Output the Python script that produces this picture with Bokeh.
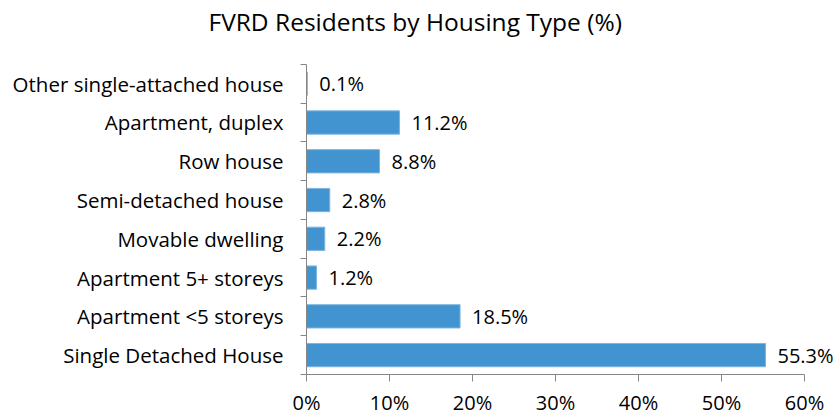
from bokeh.plotting import figure
from bokeh.models import ColumnDataSource, FixedTicker, PrintfTickFormatter, Range1d, LabelSet
from bokeh.core.properties import value
from bokeh.embed import file_html
from bokeh.resources import INLINE

categories = ["Single Detached House", "Apartment <5 storeys", "Apartment 5+ storeys",
              "Movable dwelling", "Semi-detached house", "Row house",
              "Apartment, duplex", "Other single-attached house"]
values = [55.3, 18.5, 1.2, 2.2, 2.8, 8.8, 11.2, 0.1]
x_ticks = [0, 10, 20, 30, 40, 50, 60]

FONT = "Open Sans"
n = len(categories)
pos = list(range(n))
labels = [f"{v:.1f}%" for v in values]

src = ColumnDataSource(dict(y=pos, v=values, lab=labels, cat=categories))

# Frame is a bit larger than the plotted area (so the outside-end labels and the
# title spacing work); the axis lines themselves are bounded to the data area.
W, H = 840, 418
left, right_px, top, bottom = 306, 804, 37, 376
band = (bottom - 64) / n               # plotted area spans 64..376 px
x_end = x_ticks[-1] * (W - left) / (right_px - left)
y_end = -0.5 + (bottom - top) / band

p = figure(width=W, height=H, output_backend="svg", toolbar_location=None,
           x_range=Range1d(0, x_end), y_range=Range1d(-0.5, y_end),
           min_border_left=left, min_border_right=0, min_border_top=top,
           min_border_bottom=H - bottom)
p.outline_line_color = None
p.xgrid.visible = False
p.ygrid.visible = False

p.hbar(y="y", left=0, right="v", height=0.6, source=src,
       fill_color="#4294D0", line_color="#7DB4E0", line_width=1)
p.add_layout(LabelSet(x="v", y="y", text="lab", source=src, x_offset=12,
                      text_align="left", text_baseline="middle", text_font=value(FONT),
                      text_font_size="20px", text_color="#000000"))

# x axis
p.xaxis.ticker = FixedTicker(ticks=x_ticks)
p.xaxis.bounds = (x_ticks[0], x_ticks[-1])
p.xaxis.formatter = PrintfTickFormatter(format="%d%%")
p.xaxis.axis_line_color = "#868686"
p.xaxis.major_tick_line_color = "#868686"
p.xaxis.major_tick_out = 7
p.xaxis.major_tick_in = 0
p.xaxis.minor_tick_line_color = None
p.xaxis.major_label_standoff = 7
p.xaxis.major_label_text_font = FONT
p.xaxis.major_label_text_font_size = "20px"
p.xaxis.major_label_text_color = "#000000"

# y axis
p.yaxis.ticker = FixedTicker(ticks=pos, minor_ticks=[i - 0.5 for i in range(n + 1)])
p.yaxis.bounds = (-0.5, n - 0.5)
p.yaxis.major_label_overrides = {i: c for i, c in zip(pos, categories)}
p.yaxis.axis_line_color = "#868686"
p.yaxis.major_tick_line_color = None
p.yaxis.major_tick_out = 0
p.yaxis.major_tick_in = 0
p.yaxis.minor_tick_line_color = "#868686"
p.yaxis.minor_tick_out = 6
p.yaxis.minor_tick_in = 0
p.yaxis.major_label_standoff = 17
p.yaxis.major_label_text_font = FONT
p.yaxis.major_label_text_font_size = "20.5px"
p.yaxis.major_label_text_color = "#000000"

p.title.text = "FVRD Residents by Housing Type (%)"
p.title.align = "left"
p.title.offset = -98
p.title.text_font = FONT
p.title.text_font_size = "24.5px"
p.title.text_font_style = "normal"
p.title.text_color = "#000000"
p.title.standoff = 0

open("out.html", "w").write(file_html(p, INLINE))
